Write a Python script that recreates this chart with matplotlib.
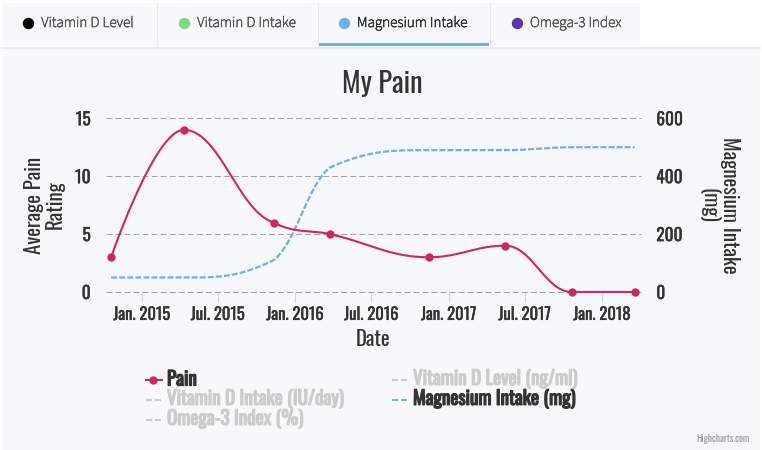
import datetime as dt
import numpy as np
import matplotlib
matplotlib.use("Agg")
import matplotlib.pyplot as plt
import matplotlib.dates as mdates
import matplotlib.patheffects as pe
from matplotlib.lines import Line2D
from matplotlib.patches import Rectangle
from matplotlib import font_manager as fm

# ---------------- data ----------------
dates = ["2014-10-20", "2015-04-11", "2015-11-11", "2016-03-24",
         "2016-11-15", "2017-05-16", "2017-10-21", "2018-03-20"]
pain = [3, 14, 6, 5, 3, 4, 0, 0]
magnesium = [50, 50, 110, 430, 490, 490, 500, 500]

tick_dates = ["2015-01-01", "2015-07-01", "2016-01-01", "2016-07-01",
              "2017-01-01", "2017-07-01", "2018-01-01"]
tick_labels = ["Jan. 2015", "Jul. 2015", "Jan. 2016", "Jul. 2016",
               "Jan. 2017", "Jul. 2017", "Jan. 2018"]
left_ticks = [0, 5, 10, 15]
right_ticks = [0, 200, 400, 600]

tabs = ["Vitamin D Level", "Vitamin D Intake", "Magnesium Intake", "Omega-3 Index"]
tab_colors = ["#000000", "#7ddc7a", "#6cb0f0", "#5b36a8"]
selected_tab = 2

legend_col1 = ["Pain", "Vitamin D Intake (IU/day)", "Omega-3 Index (%)"]
legend_col2 = ["Vitamin D Level (ng/ml)", "Magnesium Intake (mg)"]

PAIN_COLOR = "#d6245f"
MAG_COLOR = "#6cb0f0"

# ---------------- fonts ----------------
avail = {f.name for f in fm.fontManager.ttflist}
def pick(*names):
    for n in names:
        if n in avail:
            return n
    return "DejaVu Sans"
CHART_FONT = pick("Oswald", "Archivo Narrow", "Liberation Sans Narrow", "DejaVu Sans")
TAB_FONT = pick("Source Sans 3", "Source Sans Pro", "Noto Sans", "Open Sans")

W, H = 762, 450
fig = plt.figure(figsize=(W / 100, H / 100), dpi=100)
fig.patch.set_facecolor("white")

def fx(x):
    return x / W
def fy(y):
    return 1 - y / H

# backgrounds
BG = "#f7f8fa"
fig.add_artist(Rectangle((fx(3), fy(450)), fx(760) - fx(3), fy(48) - fy(450),
                         transform=fig.transFigure, facecolor=BG, edgecolor="none", zorder=0))
fig.add_artist(Rectangle((fx(3), fy(46)), fx(640) - fx(3), fy(3) - fy(46),
                         transform=fig.transFigure, facecolor=BG, edgecolor="none", zorder=0))
fig.add_artist(Line2D([fx(3), fx(760)], [fy(47.5), fy(47.5)], transform=fig.transFigure,
                      color="#e6e6e6", lw=1.2))
for xdv in [157, 317.5, 489.5]:
    fig.add_artist(Line2D([fx(xdv), fx(xdv)], [fy(3), fy(46)], transform=fig.transFigure,
                          color="#e8e8e8", lw=0.8))

# tabs
tab_circle_x = [27.7, 183.7, 343.5, 516.5]
for i, (name, col, cxp) in enumerate(zip(tabs, tab_colors, tab_circle_x)):
    fig.add_artist(Line2D([fx(cxp)], [fy(23)], transform=fig.transFigure, marker="o",
                          markersize=8.2, color=col, markeredgewidth=0))
    tcol = "#333333" if i == selected_tab else "#595959"
    fig.text(fx(cxp + 13.5), fy(23), name, ha="left", va="center", fontsize=10.9,
             family=TAB_FONT, fontweight="semibold", color=tcol,
             path_effects=[pe.withStroke(linewidth=0.45, foreground=tcol)])
fig.add_artist(Rectangle((fx(318), fy(46)), fx(489) - fx(318), fy(43) - fy(46),
                         transform=fig.transFigure, facecolor=MAG_COLOR, edgecolor="none"))

# ---------------- axes ----------------
L, R, T, B = 106, 641, 118.3, 292
ax = fig.add_axes([fx(L), fy(B), fx(R) - fx(L), fy(T) - fy(B)])
ax.set_facecolor("none")
ax2 = ax.twinx()
ax2.set_facecolor("none")

xd = mdates.date2num([dt.datetime.fromisoformat(d) for d in dates])
tx = mdates.date2num([dt.datetime.fromisoformat(d) for d in tick_dates])
px_per_day = (602 - 141.8) / (tx[-1] - tx[0])
x0 = tx[0] - (141.8 - L) / px_per_day
x1 = tx[0] + (R - 141.8) / px_per_day


def hc_spline(xs, ys, smoothing=1.5, n=60):
    xs = np.asarray(xs, float)
    ys = np.asarray(ys, float)
    m = len(xs)
    lcx, lcy, rcx, rcy = xs.copy(), ys.copy(), xs.copy(), ys.copy()
    for i in range(1, m - 1):
        px, py = xs[i], ys[i]
        lx, ly = xs[i - 1], ys[i - 1]
        nx, ny = xs[i + 1], ys[i + 1]
        a = (smoothing * px + lx) / (smoothing + 1)
        b = (smoothing * py + ly) / (smoothing + 1)
        c = (smoothing * px + nx) / (smoothing + 1)
        d = (smoothing * py + ny) / (smoothing + 1)
        corr = ((d - b) * (c - px)) / (c - a) + py - d
        b += corr
        d += corr
        if b > ly and b > py:
            b = max(ly, py); d = 2 * py - b
        elif b < ly and b < py:
            b = min(ly, py); d = 2 * py - b
        if d > ny and d > py:
            d = max(ny, py); b = 2 * py - d
        elif d < ny and d < py:
            d = min(ny, py); b = 2 * py - d
        lcx[i], lcy[i], rcx[i], rcy[i] = a, b, c, d
    t = np.linspace(0, 1, n)[:, None]
    out_x, out_y = [], []
    for i in range(m - 1):
        P = np.array([[xs[i], ys[i]], [rcx[i], rcy[i]], [lcx[i + 1], lcy[i + 1]], [xs[i + 1], ys[i + 1]]])
        pts = ((1 - t) ** 3) * P[0] + 3 * ((1 - t) ** 2) * t * P[1] + 3 * (1 - t) * t ** 2 * P[2] + t ** 3 * P[3]
        out_x.append(pts[:, 0]); out_y.append(pts[:, 1])
    return np.concatenate(out_x), np.concatenate(out_y)


plt.rcParams["lines.scale_dashes"] = False
ax.set_ylim(0, 15)
ax2.set_ylim(0, 600)
ax.set_xlim(x0, x1)
ax2.set_xlim(x0, x1)
ax.set_yticks(left_ticks)
ax2.set_yticks(right_ticks)
ax.yaxis.grid(True, color="#a3a3a3", lw=0.75, linestyle=(0, (4.3, 2.2)), clip_on=False)
ax.set_axisbelow(True)
for s in list(ax.spines.values()) + list(ax2.spines.values()):
    s.set_visible(False)

mx, my = hc_spline(xd, magnesium)
ax2.plot(mx, my, color=MAG_COLOR, lw=1.6, linestyle=(0, (4.3, 1.5)), solid_capstyle="butt",
         clip_on=False, zorder=2)
sx, sy = hc_spline(xd, pain)
ax.plot(sx, sy, color=PAIN_COLOR, lw=1.5, clip_on=False, zorder=3)
ax.plot(xd, pain, linestyle="none", marker="o", markersize=6.0, color=PAIN_COLOR,
        markeredgewidth=0, clip_on=False, zorder=4)
ax.set_zorder(ax2.get_zorder() + 1)

# ticks
ax.set_xticks(tx)
ax.set_xticklabels(tick_labels)
ax.tick_params(axis="x", length=7, width=0.75, color="#ccd6eb", direction="out", pad=3,
               labelsize=12, labelcolor="#333333")
ax.tick_params(axis="y", length=0, pad=11, labelsize=12.5, labelcolor="#333333")
ax2.tick_params(axis="y", length=0, pad=11, labelsize=12.5, labelcolor="#333333")
ax2.tick_params(axis="x", length=0)
dark = [pe.withStroke(linewidth=0.25, foreground="#333333")]
for lab in ax.get_xticklabels() + ax.get_yticklabels() + ax2.get_yticklabels():
    lab.set_family(CHART_FONT)
    lab.set_path_effects(dark)

# titles
fig.text(fx(382), fy(84), "My Pain", ha="center", va="center", fontsize=20.5,
         family=CHART_FONT, color="#333333")
fig.text(fx(44.5), fy(205), "Average Pain\nRating", rotation=90, ha="center", va="center",
         fontsize=15, family=CHART_FONT, color="#333333", linespacing=1.0, multialignment="center")
fig.text(fx(719), fy(205), "Magnesium Intake\n(mg)", rotation=270, ha="center", va="center",
         fontsize=15, family=CHART_FONT, color="#333333", linespacing=1.0, multialignment="center")
fig.text(fx(373), fy(339), "Date", ha="center", va="center", fontsize=15,
         family=CHART_FONT, color="#333333")

# legend (drawn manually, Highcharts style)
rows = [379.5, 399.5, 419.5]
hidden = "#cccccc"
def legend_item(xsym, y, text, color, textcolor, marker=False, dashed=True):
    ls = (0, (4.3, 2.2)) if dashed else "-"
    fig.add_artist(Line2D([fx(xsym), fx(xsym + 16)], [fy(y), fy(y)], transform=fig.transFigure,
                          color=color, lw=1.5, linestyle=ls))
    if marker:
        fig.add_artist(Line2D([fx(xsym + 7)], [fy(y)], transform=fig.transFigure, marker="o",
                              markersize=6, color=color, markeredgewidth=0))
    fig.text(fx(xsym + 21), fy(y), text, ha="left", va="center", fontsize=13.8,
             family=CHART_FONT, fontweight="bold", color=textcolor,
             path_effects=[pe.withStroke(linewidth=0.9, foreground=textcolor)])

legend_item(146, rows[0], legend_col1[0], PAIN_COLOR, "#333333", marker=True, dashed=False)
legend_item(146, rows[1], legend_col1[1], hidden, hidden)
legend_item(146, rows[2], legend_col1[2], hidden, hidden)
legend_item(392, rows[0], legend_col2[0], hidden, hidden)
legend_item(392, rows[1], legend_col2[1], MAG_COLOR, "#333333")

fig.text(fx(750), fy(438.5), "Highcharts.com", ha="right", va="center", fontsize=6.8,
         family=CHART_FONT, color="#999999")

fig.savefig("out.png", dpi=100, facecolor=fig.get_facecolor())
